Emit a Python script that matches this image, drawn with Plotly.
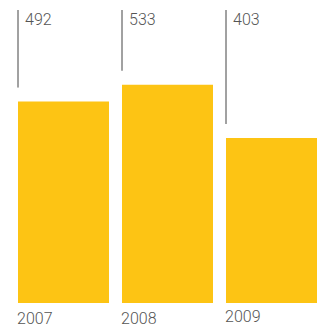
import plotly.graph_objects as go

years = ["2007", "2008", "2009"]
values = [492, 533, 403]
label_text = ["492", "533", "403"]

bar_color = "#FDC414"
text_color = "#555555"
font_family = "Roboto"

W, H = 320, 328
bar_w = 0.875
ymax = 740
x = list(range(len(years)))

fig = go.Figure(go.Bar(x=x, y=values, width=bar_w, marker=dict(color=bar_color, line=dict(width=0)),
                       hoverinfo="skip"))

shapes = []
annotations = []
line_top = ymax * (293 / 303)
gap = ymax * (14 / 303)
for i, (v, lab, yr) in enumerate(zip(values, label_text, years)):
    left = i - bar_w / 2
    shapes.append(dict(type="line", xref="x", yref="y", x0=left, x1=left, y0=v + gap, y1=line_top,
                       line=dict(color="#444444", width=1)))
    annotations.append(dict(x=left, y=line_top, xref="x", yref="y", text=lab, showarrow=False,
                            xanchor="left", yanchor="top", xshift=6, yshift=1, borderpad=0,
                            font=dict(family=font_family, size=16, color=text_color, weight=300)))
    annotations.append(dict(x=left, y=0, xref="x", yref="y", text=yr, showarrow=False,
                            xanchor="left", yanchor="top", xshift=-2, yshift=-5 + (2 if i == 2 else 0),
                            borderpad=0,
                            font=dict(family=font_family, size=16, color=text_color, weight=300)))

fig.update_layout(
    width=W, height=H,
    margin=dict(l=0, r=0, t=0, b=25),
    paper_bgcolor="white", plot_bgcolor="white",
    showlegend=False,
    xaxis=dict(range=[-63.5 / 104, -63.5 / 104 + W / 104], visible=False, fixedrange=True),
    yaxis=dict(range=[0, ymax], visible=False, fixedrange=True),
    shapes=shapes, annotations=annotations,
)

fig.write_html("out.html", config={"displayModeBar": False})
